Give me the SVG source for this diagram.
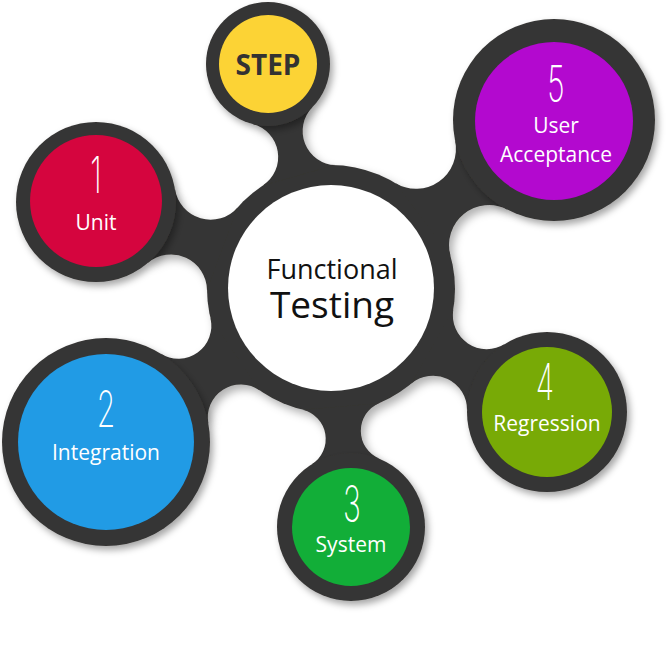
<svg xmlns="http://www.w3.org/2000/svg" width="671" height="664" viewBox="0 0 671 664">
  <defs>
    <filter id="bodyShadow" x="-20%" y="-20%" width="140%" height="140%">
      <feDropShadow dx="4" dy="5" stdDeviation="4" flood-color="#000" flood-opacity="0.3"/>
    </filter>
    <filter id="ringShadow" x="-30%" y="-30%" width="160%" height="160%">
      <feDropShadow dx="3" dy="4" stdDeviation="3.5" flood-color="#000" flood-opacity="0.35"/>
    </filter>
    <style>
      .dark { fill: #363534; }
      .ring { fill: #363534; filter: url(#ringShadow); }
      .label { font-family: "Open Sans", "Noto Sans", "Liberation Sans", sans-serif; font-size: 21px; fill: #ffffff; text-anchor: middle; }
      .num { font-family: "Inter", "Lato", "Roboto", "DejaVu Sans", sans-serif; font-weight: 200; font-size: 50px; fill: #ffffff; text-anchor: middle; }
      .title { font-family: "Open Sans", "Noto Sans", "Liberation Sans", sans-serif; fill: #111111; text-anchor: middle; }
    </style>
  </defs>
  <rect width="671" height="664" fill="#ffffff"/>

  <g id="connectors" class="dark" filter="url(#bodyShadow)">
    <circle cx="331" cy="289" r="124"/>
    <path d="M335.43,165.08 A34,34 0 0 1 312.33,107.34 L252.63,124.05 A34,34 0 0 1 262.88,185.39 Z"/>
    <path d="M237.65,207.38 A36,36 0 0 1 175.00,189.37 L147.73,263.04 A36,36 0 0 1 207.01,290.16 Z"/>
    <path d="M210.44,317.95 A33,33 0 0 1 160.92,353.68 L208.32,423.39 A33,33 0 0 1 259.75,390.48 Z"/>
    <path d="M302.58,409.70 A30,30 0 0 1 311.66,464.32 L379.33,458.62 A30,30 0 0 1 379.16,403.26 Z"/>
    <path d="M411.07,383.69 A34,34 0 0 1 467.01,410.35 L504.77,344.03 A34,34 0 0 1 453.29,309.52 Z"/>
    <path d="M450.48,255.83 A40,40 0 0 1 507.45,209.63 L455.12,140.58 A40,40 0 0 1 395.24,182.94 Z"/>
  </g>

  <g id="center">
    <circle cx="331" cy="288" r="103" fill="#ffffff"/>
    <text class="title" x="332" y="279" font-size="27">Functional</text>
    <text class="title" x="332" y="318" font-size="37">Testing</text>
  </g>

  <g id="step">
    <circle class="ring" cx="268" cy="64" r="62"/>
    <circle cx="268" cy="64" r="49" fill="#FCD335"/>
    <text x="268" y="75" font-family="'Open Sans', 'Noto Sans', 'Liberation Sans', sans-serif" font-weight="bold" font-size="28" fill="#333232" text-anchor="middle">STEP</text>
  </g>

  <g id="unit">
    <circle class="ring" cx="96" cy="202" r="80"/>
    <circle cx="96" cy="201" r="66" fill="#D5053E"/>
    <text class="num" transform="translate(96,193) scale(0.6,1)">1</text>
    <text class="label" x="96" y="230">Unit</text>
  </g>

  <g id="integration">
    <circle class="ring" cx="106" cy="442" r="104"/>
    <circle cx="106" cy="442" r="88" fill="#219BE5"/>
    <text class="num" transform="translate(106,427) scale(0.6,1)">2</text>
    <text class="label" x="106" y="460">Integration</text>
  </g>

  <g id="system">
    <circle class="ring" cx="351" cy="527" r="74"/>
    <circle cx="351" cy="527" r="59" fill="#12AE38"/>
    <text class="num" transform="translate(352,522) scale(0.6,1)">3</text>
    <text class="label" x="351" y="552">System</text>
  </g>

  <g id="regression">
    <circle class="ring" cx="547" cy="412" r="80"/>
    <circle cx="547" cy="412" r="65" fill="#78AA06"/>
    <text class="num" transform="translate(545,400) scale(0.6,1)">4</text>
    <text class="label" x="547" y="431">Regression</text>
  </g>

  <g id="user-acceptance">
    <circle class="ring" cx="554" cy="120" r="101"/>
    <circle cx="554" cy="121" r="79" fill="#B309CF"/>
    <text class="num" transform="translate(556,102) scale(0.6,1)">5</text>
    <text class="label" x="556" y="133">User</text>
    <text class="label" x="556" y="162">Acceptance</text>
  </g>
</svg>
